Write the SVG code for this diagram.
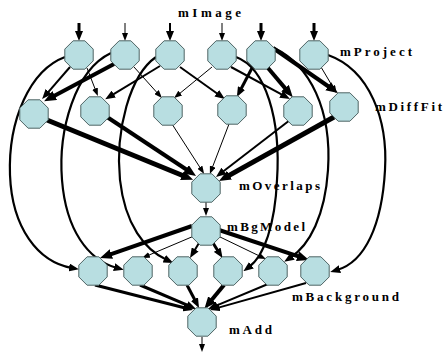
<svg xmlns="http://www.w3.org/2000/svg" width="444" height="355" viewBox="0 0 444 355">
  <style>
    .node { fill: #b8dee1; stroke: #4f6464; stroke-width: 1; }
    .e { fill: none; stroke: #000; stroke-linecap: butt; }
    .w1 { stroke-width: 1; marker-end: url(#ah-s); }
    .w2 { stroke-width: 2; marker-end: url(#ah-m); }
    .w3 { stroke-width: 3; marker-end: url(#ah-m); }
    .w4 { stroke-width: 4; marker-end: url(#ah-l); }
    .w5 { stroke-width: 5; marker-end: url(#ah-l); }
    .arc { stroke-width: 2.2; marker-end: url(#ah-m); }
    .lbl { font-family: "Liberation Serif", "Times New Roman", serif; font-weight: bold; font-size: 13px; fill: #000; }
  </style>
  <defs>
    <marker id="ah-s" viewBox="0 0 8 6" refX="2" refY="3" markerWidth="8" markerHeight="6" markerUnits="userSpaceOnUse" orient="auto">
      <path d="M0,0 L8,3 L0,6 z" fill="#000"/>
    </marker>
    <marker id="ah-m" viewBox="0 0 10 8" refX="3" refY="4" markerWidth="10" markerHeight="8" markerUnits="userSpaceOnUse" orient="auto">
      <path d="M0,0 L10,4 L0,8 z" fill="#000"/>
    </marker>
    <marker id="ah-l" viewBox="0 0 12 10" refX="4" refY="5" markerWidth="12" markerHeight="10" markerUnits="userSpaceOnUse" orient="auto">
      <path d="M0,0 L12,5 L0,10 z" fill="#000"/>
    </marker>
    <polygon id="oct" class="node" points="14.2,-5.9 5.9,-14.2 -5.9,-14.2 -14.2,-5.9 -14.2,5.9 -5.9,14.2 5.9,14.2 14.2,5.9"/>
  </defs>

  <g id="connectors">
    <!-- inputs into mProject -->
    <line class="e w3" x1="79" y1="23" x2="79" y2="34"/>
    <line class="e w1" x1="125" y1="23" x2="125" y2="35"/>
    <line class="e w2" x1="170" y1="23" x2="170" y2="34"/>
    <line class="e w1" x1="222" y1="23" x2="222" y2="35"/>
    <line class="e w3" x1="261" y1="23" x2="261" y2="34"/>
    <line class="e w3" x1="314" y1="23" x2="314" y2="34"/>

    <!-- mProject to mBackground (long arcs) -->
    <path class="e arc" d="M65,57 C30,70 8,120 10,175 C12,228 38,262 72,268"/>
    <path class="e arc" d="M111,53 C75,70 58,130 62,180 C66,230 88,260 117,268"/>
    <path class="e arc" d="M156,57 C130,75 115,130 120,180 C125,225 145,250 167,260"/>
    <path class="e arc" d="M236,57 C266,68 281,120 277,180 C275,225 264,256 249,267"/>
    <path class="e arc" d="M274,48 C310,65 332,110 328,170 C325,215 310,245 290,258"/>
    <path class="e arc" d="M328,55 C370,70 388,120 385,170 C382,225 365,262 337,270"/>

    <!-- mProject to mDiffFit -->
    <line class="e w2" x1="70" y1="67" x2="46.7" y2="93.8"/>
    <line class="e w4" x1="114" y1="64" x2="51.2" y2="97.4"/>
    <line class="e w1" x1="87" y1="68" x2="95.7" y2="90.5"/>
    <line class="e w2" x1="160" y1="66" x2="111.2" y2="95.6"/>
    <line class="e w1" x1="134" y1="67" x2="157.9" y2="93.6"/>
    <line class="e w1" x1="212" y1="67" x2="178.7" y2="94.3"/>
    <line class="e w2" x1="180" y1="67" x2="219.2" y2="95"/>
    <line class="e w3" x1="252" y1="68" x2="240.1" y2="90.7"/>
    <line class="e w2" x1="231" y1="67" x2="283.8" y2="95.7"/>
    <line class="e w4" x1="268" y1="68" x2="287.6" y2="91.1"/>
    <line class="e w4" x1="273" y1="48" x2="331.4" y2="88.5"/>
    <line class="e w1" x1="321" y1="67" x2="333.5" y2="88.1"/>

    <!-- mDiffFit to mOverlaps -->
    <line class="e w5" x1="47" y1="120" x2="185.7" y2="176.8"/>
    <line class="e w4" x1="107" y1="117" x2="189.4" y2="171.5"/>
    <line class="e w1" x1="172" y1="124" x2="200.9" y2="168.9"/>
    <line class="e w1" x1="229" y1="124" x2="212" y2="168.4"/>
    <line class="e w2" x1="290" y1="120" x2="221.5" y2="172.7"/>
    <line class="e w5" x1="334" y1="117" x2="226" y2="177.1"/>

    <!-- mOverlaps to mBgModel -->
    <line class="e w1" x1="206" y1="202" x2="206" y2="210"/>

    <!-- mBgModel to mBackground -->
    <line class="e w4" x1="192" y1="226" x2="107.6" y2="255.4"/>
    <line class="e w1" x1="194" y1="236" x2="147.5" y2="255.7"/>
    <line class="e w2" x1="199" y1="243" x2="193.6" y2="252"/>
    <line class="e w3" x1="213" y1="243" x2="218.8" y2="252.2"/>
    <line class="e w1" x1="218" y1="236" x2="260.5" y2="256.5"/>
    <line class="e w4" x1="219" y1="230" x2="301.4" y2="257.4"/>

    <!-- mBackground to mAdd -->
    <line class="e w3" x1="95" y1="285" x2="186.2" y2="308.3"/>
    <line class="e w3" x1="140" y1="285" x2="189.6" y2="306.2"/>
    <line class="e w3" x1="187" y1="285" x2="195.8" y2="301.8"/>
    <line class="e w4" x1="224" y1="285" x2="209.5" y2="302.6"/>
    <line class="e w2" x1="268" y1="284" x2="214.5" y2="306.3"/>
    <line class="e w2" x1="306" y1="283" x2="216.7" y2="308.1"/>

    <!-- mAdd output -->
    <line class="e w1" x1="202" y1="337" x2="202" y2="346"/>
  </g>

  <!-- mProject row -->
  <g id="mProject-1"><use href="#oct" x="79" y="55"/></g>
  <g id="mProject-2"><use href="#oct" x="125" y="55"/></g>
  <g id="mProject-3"><use href="#oct" x="170" y="55"/></g>
  <g id="mProject-4"><use href="#oct" x="222" y="55"/></g>
  <g id="mProject-5"><use href="#oct" x="261" y="55"/></g>
  <g id="mProject-6"><use href="#oct" x="314" y="55"/></g>

  <!-- mDiffFit row -->
  <g id="mDiffFit-1"><use href="#oct" x="34" y="114"/></g>
  <g id="mDiffFit-2"><use href="#oct" x="95" y="111"/></g>
  <g id="mDiffFit-3"><use href="#oct" x="168" y="111"/></g>
  <g id="mDiffFit-4"><use href="#oct" x="232" y="110"/></g>
  <g id="mDiffFit-5"><use href="#oct" x="298" y="111"/></g>
  <g id="mDiffFit-6"><use href="#oct" x="344" y="107"/></g>

  <g id="mOverlaps"><use href="#oct" x="206" y="188"/></g>
  <g id="mBgModel"><use href="#oct" x="206" y="231"/></g>

  <!-- mBackground row -->
  <g id="mBackground-1"><use href="#oct" x="93" y="271"/></g>
  <g id="mBackground-2"><use href="#oct" x="138" y="271"/></g>
  <g id="mBackground-3"><use href="#oct" x="183" y="271"/></g>
  <g id="mBackground-4"><use href="#oct" x="228" y="271"/></g>
  <g id="mBackground-5"><use href="#oct" x="273" y="271"/></g>
  <g id="mBackground-6"><use href="#oct" x="315" y="271"/></g>

  <g id="mAdd"><use href="#oct" x="202" y="322"/></g>

  <g id="labels">
    <text class="lbl" x="178" y="17" textLength="63" lengthAdjust="spacing">mImage</text>
    <text class="lbl" x="340" y="56" textLength="72" lengthAdjust="spacing">mProject</text>
    <text class="lbl" x="375" y="111" textLength="67" lengthAdjust="spacing">mDiffFit</text>
    <text class="lbl" x="239" y="190" textLength="81" lengthAdjust="spacing">mOverlaps</text>
    <text class="lbl" x="227" y="231" textLength="78" lengthAdjust="spacing">mBgModel</text>
    <text class="lbl" x="292" y="301" textLength="107" lengthAdjust="spacing">mBackground</text>
    <text class="lbl" x="229" y="334" textLength="43" lengthAdjust="spacing">mAdd</text>
  </g>
</svg>
